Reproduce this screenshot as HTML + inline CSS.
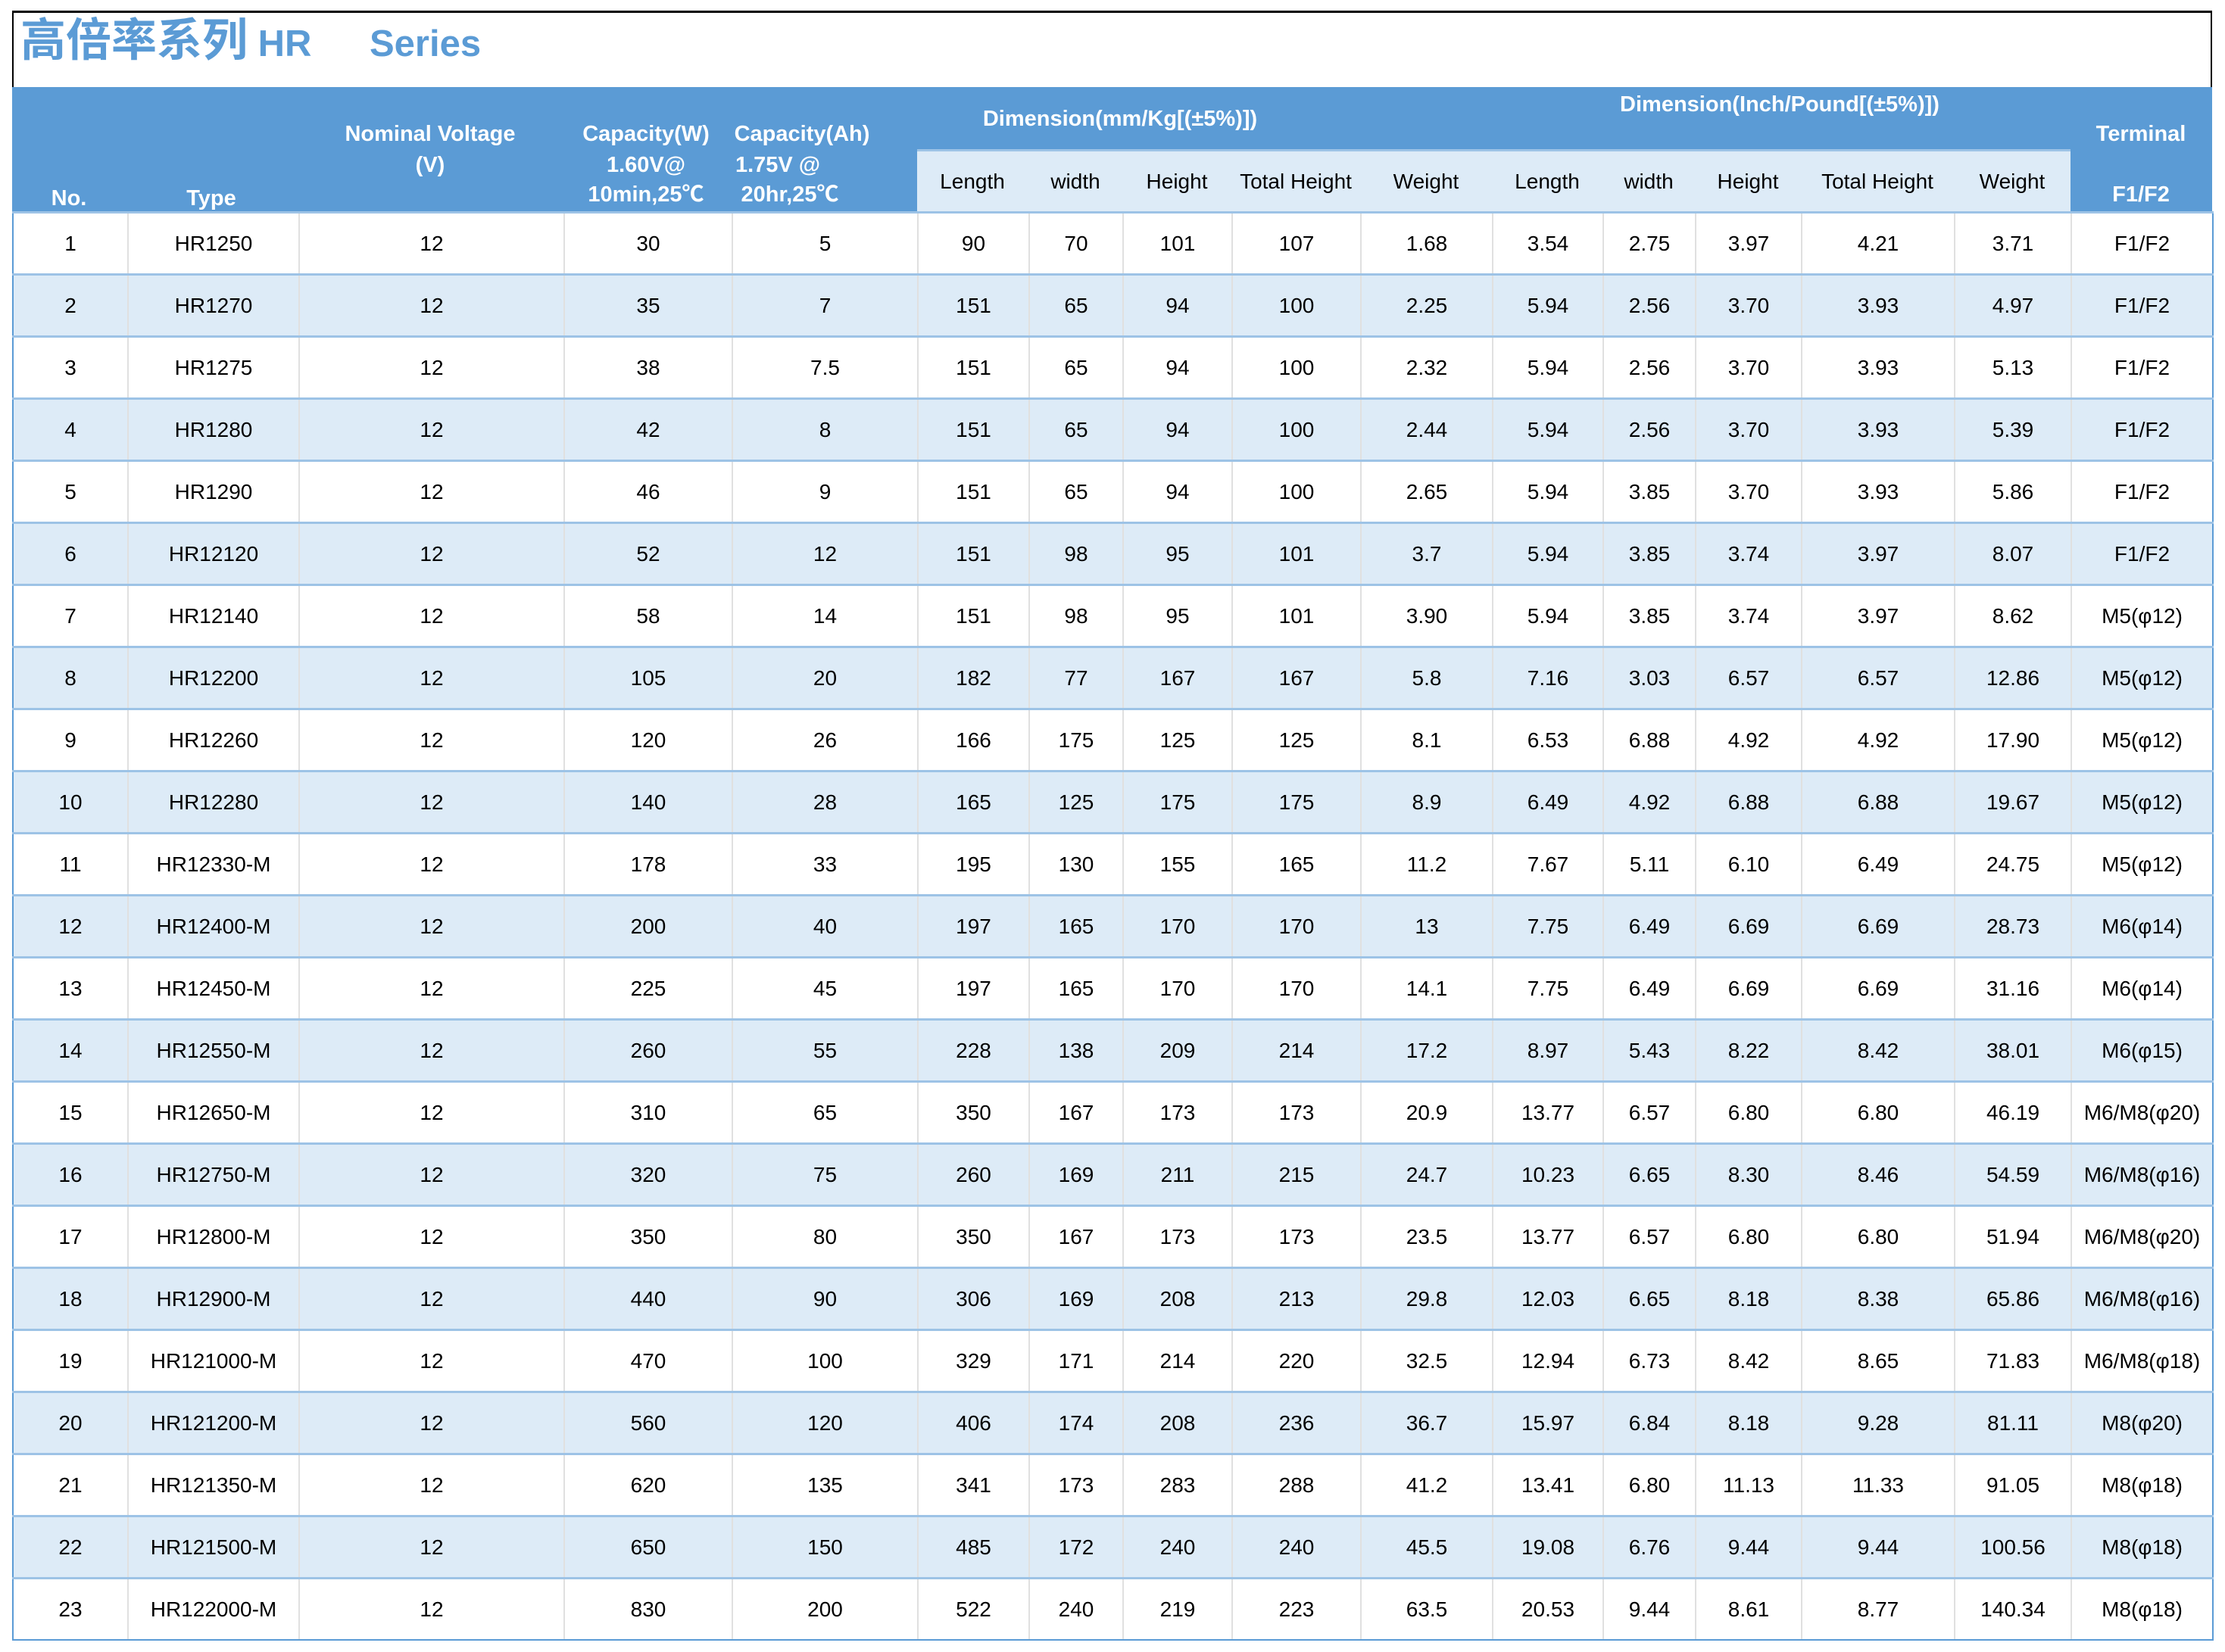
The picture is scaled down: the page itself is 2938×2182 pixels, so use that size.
<!DOCTYPE html>
<html><head><meta charset="utf-8"><style>
body{margin:0;width:2938px;height:2182px;background:#fff;position:relative;overflow:hidden;font-family:"Liberation Sans","Noto Sans CJK SC",sans-serif;}
.abs{position:absolute;}
#frame{left:16px;top:14px;width:2905px;height:101px;border-top:3px solid #000;border-left:2px solid #000;border-right:2px solid #000;box-sizing:border-box;}
.title{top:19px;font-size:60px;font-weight:bold;color:#5b9bd5;line-height:70px;white-space:pre;}
.lat{font-size:49px;}
#hdr{left:16px;top:115px;width:2905px;height:164px;background:#5b9bd5;}
#sub{left:1211px;top:197px;width:1523px;height:82px;background:#ddebf7;border-top:3px solid #9dc3e6;box-sizing:border-box;}
.h{position:absolute;color:#fff;font-weight:bold;font-size:29px;line-height:32px;transform:translate(-50%,-50%);white-space:nowrap;}
.s{position:absolute;color:#000;font-size:28px;line-height:32px;transform:translate(-50%,-50%);white-space:nowrap;}
table{position:absolute;left:16px;top:279px;width:2905px;border-collapse:collapse;table-layout:fixed;font-size:28px;}
td{height:79px;padding:0;text-align:center;border-right:2px solid #e0e0e0;border-top:3px solid #9dc3e6;white-space:nowrap;}
tr:nth-child(even) td{background:#ddebf7;}
td:first-child{border-left:2px solid #5b9bd5;}
td:last-child{border-right:2px solid #5b9bd5;}
tr:last-child td{border-bottom:2px solid #5b9bd5;}
</style></head><body>
<div id="frame" class="abs"></div>
<div class="abs title" style="left:27px">高倍率系列<span class="lat"> HR</span></div>
<div class="abs title" style="left:488px"><span class="lat">Series</span></div>
<div id="hdr" class="abs"></div>
<div id="sub" class="abs"></div>
<div class="h" style="left:568px;top:177px">Nominal Voltage</div>
<div class="h" style="left:91px;top:262px">No.</div>
<div class="h" style="left:279px;top:262px">Type</div>
<div class="h" style="left:568px;top:218px">(V)</div>
<div class="h" style="left:853px;top:177px">Capacity(W)</div>
<div class="h" style="left:853px;top:218px">1.60V@</div>
<div class="h" style="left:853px;top:257px">10min,25℃</div>
<div class="h" style="left:1059px;top:177px">Capacity(Ah)</div>
<div class="h" style="left:1027px;top:218px">1.75V @</div>
<div class="h" style="left:1043px;top:257px">20hr,25℃</div>
<div class="h" style="left:1479px;top:157px">Dimension(mm/Kg[(±5%)])</div>
<div class="h" style="left:2350px;top:138px">Dimension(Inch/Pound[(±5%)])</div>
<div class="h" style="left:2827px;top:177px">Terminal</div>
<div class="h" style="left:2827px;top:257px">F1/F2</div>
<div class="s" style="left:1284px;top:240px">Length</div>
<div class="s" style="left:1420px;top:240px">width</div>
<div class="s" style="left:1554px;top:240px">Height</div>
<div class="s" style="left:1711px;top:240px">Total Height</div>
<div class="s" style="left:1883px;top:240px">Weight</div>
<div class="s" style="left:2043px;top:240px">Length</div>
<div class="s" style="left:2177px;top:240px">width</div>
<div class="s" style="left:2308px;top:240px">Height</div>
<div class="s" style="left:2479px;top:240px">Total Height</div>
<div class="s" style="left:2657px;top:240px">Weight</div>
<table>
<colgroup><col style="width:152px"><col style="width:226px"><col style="width:350px"><col style="width:222px"><col style="width:245px"><col style="width:147px"><col style="width:124px"><col style="width:144px"><col style="width:170px"><col style="width:174px"><col style="width:146px"><col style="width:122px"><col style="width:140px"><col style="width:202px"><col style="width:154px"><col style="width:187px"></colgroup>
<tr><td>1</td><td>HR1250</td><td>12</td><td>30</td><td>5</td><td>90</td><td>70</td><td>101</td><td>107</td><td>1.68</td><td>3.54</td><td>2.75</td><td>3.97</td><td>4.21</td><td>3.71</td><td>F1/F2</td></tr>
<tr><td>2</td><td>HR1270</td><td>12</td><td>35</td><td>7</td><td>151</td><td>65</td><td>94</td><td>100</td><td>2.25</td><td>5.94</td><td>2.56</td><td>3.70</td><td>3.93</td><td>4.97</td><td>F1/F2</td></tr>
<tr><td>3</td><td>HR1275</td><td>12</td><td>38</td><td>7.5</td><td>151</td><td>65</td><td>94</td><td>100</td><td>2.32</td><td>5.94</td><td>2.56</td><td>3.70</td><td>3.93</td><td>5.13</td><td>F1/F2</td></tr>
<tr><td>4</td><td>HR1280</td><td>12</td><td>42</td><td>8</td><td>151</td><td>65</td><td>94</td><td>100</td><td>2.44</td><td>5.94</td><td>2.56</td><td>3.70</td><td>3.93</td><td>5.39</td><td>F1/F2</td></tr>
<tr><td>5</td><td>HR1290</td><td>12</td><td>46</td><td>9</td><td>151</td><td>65</td><td>94</td><td>100</td><td>2.65</td><td>5.94</td><td>3.85</td><td>3.70</td><td>3.93</td><td>5.86</td><td>F1/F2</td></tr>
<tr><td>6</td><td>HR12120</td><td>12</td><td>52</td><td>12</td><td>151</td><td>98</td><td>95</td><td>101</td><td>3.7</td><td>5.94</td><td>3.85</td><td>3.74</td><td>3.97</td><td>8.07</td><td>F1/F2</td></tr>
<tr><td>7</td><td>HR12140</td><td>12</td><td>58</td><td>14</td><td>151</td><td>98</td><td>95</td><td>101</td><td>3.90</td><td>5.94</td><td>3.85</td><td>3.74</td><td>3.97</td><td>8.62</td><td>M5(φ12)</td></tr>
<tr><td>8</td><td>HR12200</td><td>12</td><td>105</td><td>20</td><td>182</td><td>77</td><td>167</td><td>167</td><td>5.8</td><td>7.16</td><td>3.03</td><td>6.57</td><td>6.57</td><td>12.86</td><td>M5(φ12)</td></tr>
<tr><td>9</td><td>HR12260</td><td>12</td><td>120</td><td>26</td><td>166</td><td>175</td><td>125</td><td>125</td><td>8.1</td><td>6.53</td><td>6.88</td><td>4.92</td><td>4.92</td><td>17.90</td><td>M5(φ12)</td></tr>
<tr><td>10</td><td>HR12280</td><td>12</td><td>140</td><td>28</td><td>165</td><td>125</td><td>175</td><td>175</td><td>8.9</td><td>6.49</td><td>4.92</td><td>6.88</td><td>6.88</td><td>19.67</td><td>M5(φ12)</td></tr>
<tr><td>11</td><td>HR12330-M</td><td>12</td><td>178</td><td>33</td><td>195</td><td>130</td><td>155</td><td>165</td><td>11.2</td><td>7.67</td><td>5.11</td><td>6.10</td><td>6.49</td><td>24.75</td><td>M5(φ12)</td></tr>
<tr><td>12</td><td>HR12400-M</td><td>12</td><td>200</td><td>40</td><td>197</td><td>165</td><td>170</td><td>170</td><td>13</td><td>7.75</td><td>6.49</td><td>6.69</td><td>6.69</td><td>28.73</td><td>M6(φ14)</td></tr>
<tr><td>13</td><td>HR12450-M</td><td>12</td><td>225</td><td>45</td><td>197</td><td>165</td><td>170</td><td>170</td><td>14.1</td><td>7.75</td><td>6.49</td><td>6.69</td><td>6.69</td><td>31.16</td><td>M6(φ14)</td></tr>
<tr><td>14</td><td>HR12550-M</td><td>12</td><td>260</td><td>55</td><td>228</td><td>138</td><td>209</td><td>214</td><td>17.2</td><td>8.97</td><td>5.43</td><td>8.22</td><td>8.42</td><td>38.01</td><td>M6(φ15)</td></tr>
<tr><td>15</td><td>HR12650-M</td><td>12</td><td>310</td><td>65</td><td>350</td><td>167</td><td>173</td><td>173</td><td>20.9</td><td>13.77</td><td>6.57</td><td>6.80</td><td>6.80</td><td>46.19</td><td>M6/M8(φ20)</td></tr>
<tr><td>16</td><td>HR12750-M</td><td>12</td><td>320</td><td>75</td><td>260</td><td>169</td><td>211</td><td>215</td><td>24.7</td><td>10.23</td><td>6.65</td><td>8.30</td><td>8.46</td><td>54.59</td><td>M6/M8(φ16)</td></tr>
<tr><td>17</td><td>HR12800-M</td><td>12</td><td>350</td><td>80</td><td>350</td><td>167</td><td>173</td><td>173</td><td>23.5</td><td>13.77</td><td>6.57</td><td>6.80</td><td>6.80</td><td>51.94</td><td>M6/M8(φ20)</td></tr>
<tr><td>18</td><td>HR12900-M</td><td>12</td><td>440</td><td>90</td><td>306</td><td>169</td><td>208</td><td>213</td><td>29.8</td><td>12.03</td><td>6.65</td><td>8.18</td><td>8.38</td><td>65.86</td><td>M6/M8(φ16)</td></tr>
<tr><td>19</td><td>HR121000-M</td><td>12</td><td>470</td><td>100</td><td>329</td><td>171</td><td>214</td><td>220</td><td>32.5</td><td>12.94</td><td>6.73</td><td>8.42</td><td>8.65</td><td>71.83</td><td>M6/M8(φ18)</td></tr>
<tr><td>20</td><td>HR121200-M</td><td>12</td><td>560</td><td>120</td><td>406</td><td>174</td><td>208</td><td>236</td><td>36.7</td><td>15.97</td><td>6.84</td><td>8.18</td><td>9.28</td><td>81.11</td><td>M8(φ20)</td></tr>
<tr><td>21</td><td>HR121350-M</td><td>12</td><td>620</td><td>135</td><td>341</td><td>173</td><td>283</td><td>288</td><td>41.2</td><td>13.41</td><td>6.80</td><td>11.13</td><td>11.33</td><td>91.05</td><td>M8(φ18)</td></tr>
<tr><td>22</td><td>HR121500-M</td><td>12</td><td>650</td><td>150</td><td>485</td><td>172</td><td>240</td><td>240</td><td>45.5</td><td>19.08</td><td>6.76</td><td>9.44</td><td>9.44</td><td>100.56</td><td>M8(φ18)</td></tr>
<tr><td>23</td><td>HR122000-M</td><td>12</td><td>830</td><td>200</td><td>522</td><td>240</td><td>219</td><td>223</td><td>63.5</td><td>20.53</td><td>9.44</td><td>8.61</td><td>8.77</td><td>140.34</td><td>M8(φ18)</td></tr>
</table>
</body></html>
